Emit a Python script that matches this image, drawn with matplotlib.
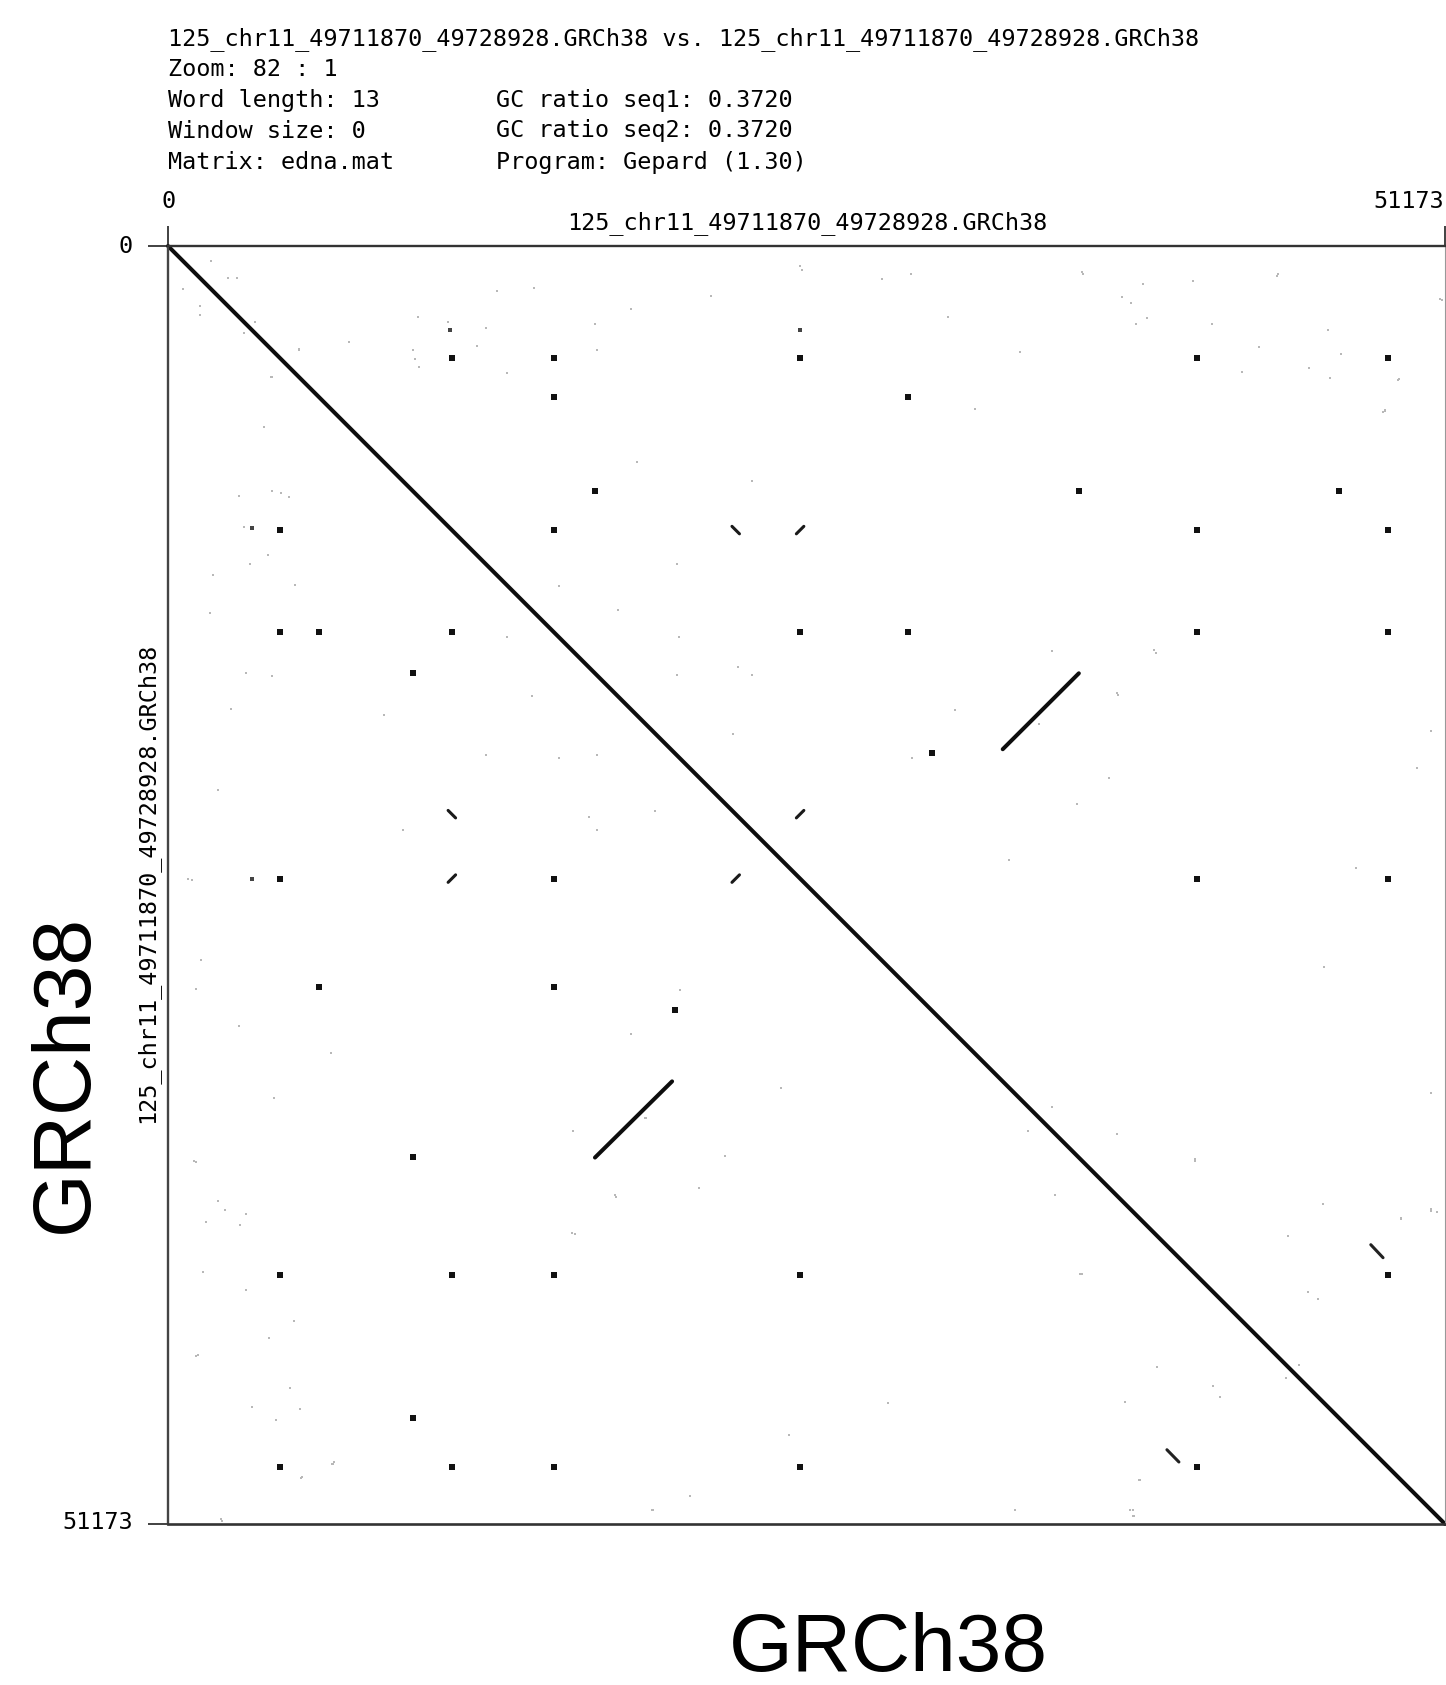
"""
Gepard self dot plot of 125_chr11_49711870_49728928 (GRCh38), redrawn with matplotlib.
"""
import numpy as np
import matplotlib.pyplot as plt

SEQ_LEN  = 51173
SEQ_NAME = "125_chr11_49711870_49728928.GRCh38"

HEADER_LEFT  = [f"{SEQ_NAME} vs. {SEQ_NAME}", "Zoom: 82 : 1",
                "Word length: 13", "Window size: 0", "Matrix: edna.mat"]
HEADER_RIGHT = ["", "", "GC ratio seq1: 0.3720", "GC ratio seq2: 0.3720",
                "Program: Gepard (1.30)"]

# long matches: self diagonal + inverted repeat pair (bp)
seg_x0 = [0,     33450, 17110]
seg_y0 = [0,     20150, 36500]
seg_x1 = [51173, 36500, 20200]
seg_y1 = [51173, 17110, 33450]

# repeat copy positions (bp)
REP = {"A": 4490, "B": 6040, "C": 9830, "D": 11375, "E": 15460, "F": 17110,
       "G": 20300, "H": 22750, "I": 25330, "J": 29670, "K": 30600,
       "L": 36490, "M": 41220, "N": 46940, "O": 48890}

# (column, row) pairs that give a short match dot
DOT_PAIRS = [
    ("D", "A"), ("E", "A"), ("I", "A"), ("M", "A"), ("O", "A"),
    ("E", "B"), ("J", "B"),
    ("F", "C"), ("L", "C"), ("N", "C"),
    ("A", "D"), ("E", "D"), ("M", "D"), ("O", "D"),
    ("A", "E"), ("B", "E"), ("D", "E"), ("I", "E"), ("J", "E"), ("M", "E"), ("O", "E"),
    ("C", "F"),
    ("K", "G"),
    ("A", "I"), ("E", "I"), ("M", "I"), ("O", "I"),
    ("B", "J"), ("E", "J"),
    ("G", "K"),
    ("C", "L"),
    ("A", "M"), ("D", "M"), ("E", "M"), ("I", "M"), ("O", "M"),
    ("C", "N"),
    ("A", "O"), ("D", "O"), ("E", "O"), ("I", "O"), ("M", "O"),
]

# short slanted matches: (column, row, +1 forward / -1 reverse)
SHORT_MARKS = [("H", "D", 1), ("I", "D", -1), ("D", "H", 1), ("I", "H", -1),
               ("D", "I", -1), ("H", "I", -1)]
# offset forward pieces near (O, M) / (M, O)
short_x0 = [48200, 40030]
short_y0 = [39990, 48200]
short_x1 = [48690, 40510]
short_y1 = [40510, 48690]

# small dark specks
speck_x = [11300, 3366, 25330, 3360]
speck_y = [3366, 11300, 3360, 25330]

# faint background hits (bp); self comparison, so each one shows on both sides
faint_x = [1711, 2416, 2777, 3486, 5249, 7253, 4155, 10030, 11232, 12730,
           12370, 9829, 9897, 10070, 13171, 14678, 13572, 17110, 17202,
           39080, 38587, 38776, 39216, 44426, 41821, 51037, 46990, 43047,
           45720, 46561, 49326, 35434, 39577, 31535, 38079, 34901, 29800,
           37718, 49406, 50837, 46093, 38948, 38680, 6600, 5381, 2152,
           19141, 962, 1338,
           25327, 29756, 36679, 41065, 44462, 38227, 46483, 48762, 18791,
           20382, 15652, 23392, 18017, 20382, 23392, 15652, 16856, 19522,
           38012, 39517, 36421, 33712, 50611, 50052, 50611, 41151, 38012,
           35432, 46268, 44892, 36636, 45322, 41882, 38657, 33927, 19436,
           24897, 28853, 2537, 2021, 1032, 2838, 4257, 6536, 4042, 6665, 2107]
faint_y = [601, 1270, 1270, 3033, 4139, 3859, 5237, 2857, 3033, 3298,
           3995, 4167, 4528, 4836, 1803, 1671, 5101, 3137, 4167,
           1523, 2296, 3137, 2897, 1190, 3137, 2164, 4340, 5061,
           4901, 5277, 5341, 16228, 16296, 18565, 17963, 19126, 20504,
           21289, 38920, 38696, 42166, 49418, 50849, 48777, 49286, 51049,
           34913, 25404, 28594,
           817, 1119, 1119, 1420, 1119, 2023, 3357, 6585, 8651,
           12740, 13601, 9426, 14591, 17173, 17173, 20487, 22854, 22639,
           17905, 16183, 22338, 24576, 19411, 20918, 38564, 36541, 35551,
           34475, 38349, 39640, 41146, 44805, 45666, 50615, 50615, 50615,
           47602, 46311, 18550, 21778, 36627, 31247, 34131, 32323, 43729, 48679, 50960]

MONO = "DejaVu Sans Mono"
SANS = "Liberation Sans"
W, H = 1446, 1685


def fx(px):
    return px / W


def fy(py):
    return 1 - py / H


def main():
    fig = plt.figure(figsize=(W / 100, H / 100), dpi=100)
    ax = fig.add_axes([fx(168), fy(1524), 1277 / W, 1278 / H])
    ax.set_xlim(0, SEQ_LEN)
    ax.set_ylim(SEQ_LEN, 0)

    # faint noise first so the real matches sit on top
    fxs = np.array(faint_x + faint_y)
    fys = np.array(faint_y + faint_x)
    ax.scatter(fxs, fys, s=3, marker="s", color="#b8b8b8", linewidths=0)

    # long matches
    for x0, y0, x1, y1 in zip(seg_x0, seg_y0, seg_x1, seg_y1):
        ax.plot([x0, x1], [y0, y1], color="#0d0d0d", lw=2.9,
                solid_capstyle="round", clip_on=False)

    # short match dots
    dx = [REP[c] for c, r in DOT_PAIRS]
    dy = [REP[r] for c, r in DOT_PAIRS]
    ax.scatter(dx, dy, s=13, marker="s", color="#111111", linewidths=0)

    half = 150
    for c, r, d in SHORT_MARKS:
        x, y = REP[c], REP[r]
        ax.plot([x - half, x + half], [y - d * half, y + d * half],
                color="#1a1a1a", lw=2.2, solid_capstyle="round")
    for x0, y0, x1, y1 in zip(short_x0, short_y0, short_x1, short_y1):
        ax.plot([x0, x1], [y0, y1], color="#222222", lw=2.2, solid_capstyle="round")

    ax.scatter(speck_x, speck_y, s=5, marker="s", color="#444444", linewidths=0)

    # frame
    for side, col, lw in [("top", "#333333", 1.7), ("left", "#444444", 1.7),
                          ("bottom", "#333333", 1.9), ("right", "#999999", 0.8)]:
        ax.spines[side].set_color(col)
        ax.spines[side].set_linewidth(lw)

    ax.xaxis.tick_top()
    ax.set_xticks([0, SEQ_LEN])
    ax.set_yticks([0, SEQ_LEN])
    ax.set_xticklabels([])
    ax.set_yticklabels([])
    ax.tick_params(length=14.4, width=1.3, color="#333333")

    fs = 16.9
    # header block
    ys = [38.7, 69.8, 100.0, 131.0, 162.2]
    for y, left, right in zip(ys, HEADER_LEFT, HEADER_RIGHT):
        fig.text(fx(168), fy(y), left, family=MONO, fontsize=fs, va="center")
        if right:
            fig.text(fx(496), fy(y), right, family=MONO, fontsize=fs, va="center")

    # axis names and end labels
    fig.text(fx(807), fy(223.5), SEQ_NAME, family=MONO, fontsize=fs,
             ha="center", va="center")
    fig.text(fx(147), fy(883), SEQ_NAME, family=MONO, fontsize=fs,
             ha="center", va="center", rotation=90)
    fig.text(fx(168.7), fy(202), "0", family=MONO, fontsize=fs, ha="center", va="center")
    fig.text(fx(1444), fy(202), str(SEQ_LEN), family=MONO, fontsize=fs,
             ha="right", va="center")
    fig.text(fx(133), fy(246), "0", family=MONO, fontsize=fs, ha="right", va="center")
    fig.text(fx(133), fy(1522), str(SEQ_LEN), family=MONO, fontsize=fs,
             ha="right", va="center")

    # big genome labels
    fig.text(fx(888), fy(1671), "GRCh38", family=SANS, fontsize=59,
             ha="center", va="baseline")
    fig.text(fx(66), fy(1073), "GRCh38", family=SANS, fontsize=59,
             ha="center", va="center", rotation=90)

    fig.savefig("out.png", dpi=100, facecolor="white")


if __name__ == "__main__":
    main()
